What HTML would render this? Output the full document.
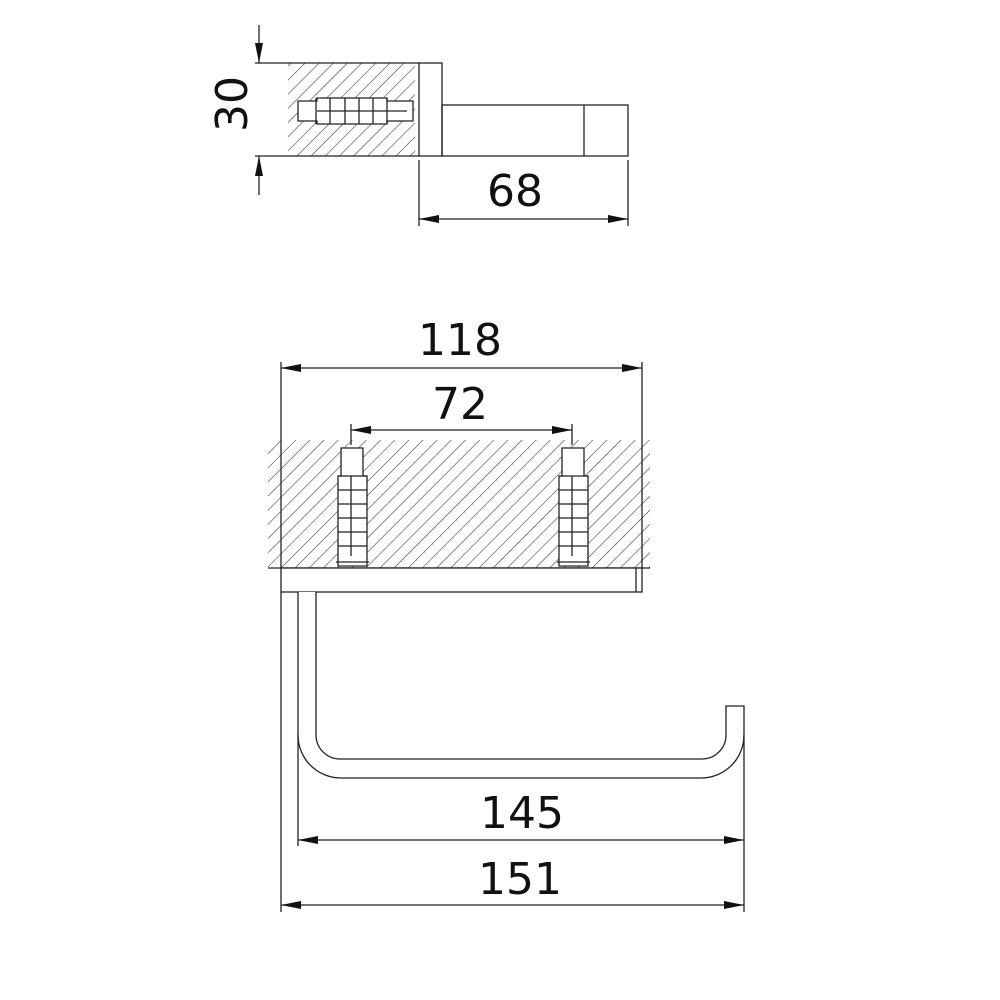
<!DOCTYPE html>
<html><head><style>body{margin:0;background:#fff}svg{display:block}text{font-family:"DejaVu Sans","Liberation Sans",sans-serif;font-size:44px;fill:#111;text-anchor:middle}</style></head><body>
<svg width="1000" height="1000" viewBox="0 0 1000 1000" xmlns="http://www.w3.org/2000/svg">
<defs>
<pattern id="h" patternUnits="userSpaceOnUse" width="10" height="10" patternTransform="rotate(45)">
<line x1="0" y1="0" x2="0" y2="10" stroke="#333" stroke-width="1.1"/>
</pattern>
<marker id="a" viewBox="0 0 20 8" refX="20" refY="4" markerWidth="20" markerHeight="8" markerUnits="userSpaceOnUse" orient="auto-start-reverse"><path d="M0,0L20,4L0,8z" fill="#111"/></marker>
</defs>
<g stroke="#222" stroke-width="1.3" fill="none">
<rect x="288" y="63" width="127" height="93" fill="url(#h)" stroke="none"/>
<line x1="255" y1="63" x2="420" y2="63"/>
<line x1="255" y1="156" x2="420" y2="156"/>
<rect x="419" y="63" width="23" height="93" fill="#fff"/>
<rect x="442" y="105" width="186" height="51"/>
<line x1="584" y1="105" x2="584" y2="156"/>
<path d="M298,101h19v-3h70v3h26v20h-26v3h-70v-3h-19z" fill="#fff"/>
<path d="M316,98v26M330,98v26M345,98v26M359,98v26M373,98v26M387,98v26M317,111h90" />
<line x1="259" y1="25" x2="259" y2="63" marker-end="url(#a)"/>
<line x1="259" y1="195" x2="259" y2="156" marker-end="url(#a)"/>
<line x1="419" y1="160" x2="419" y2="226"/>
<line x1="628" y1="160" x2="628" y2="226"/>
<line x1="419" y1="219" x2="628" y2="219" marker-start="url(#a)" marker-end="url(#a)"/>
<rect x="268" y="440" width="382" height="128" fill="url(#h)" stroke="none"/>
<line x1="268" y1="568" x2="650" y2="568"/>
<rect x="281" y="568" width="361" height="24" fill="#fff"/>
<line x1="636" y1="568" x2="636" y2="592"/>
<line x1="281" y1="362" x2="281" y2="568"/>
<line x1="642" y1="362" x2="642" y2="568"/>
<line x1="281" y1="368" x2="642" y2="368" marker-start="url(#a)" marker-end="url(#a)"/>
<line x1="351" y1="430" x2="572" y2="430" marker-start="url(#a)" marker-end="url(#a)"/>
<line x1="351" y1="424" x2="351" y2="445"/>
<line x1="572" y1="424" x2="572" y2="445"/>
<path d="M341,448h22v28h4v90h-29v-90h3z" fill="#fff"/>
<path d="M338,476h29M338,490h29M338,504h29M338,518h29M338,532h29M338,546h29M336,562h33M351,476v80"/>
<path d="M562,448h22v28h4v90h-29v-90h3z" fill="#fff"/>
<path d="M559,476h29M559,490h29M559,504h29M559,518h29M559,532h29M559,546h29M557,562h33M572,476v80"/>
<path d="M298,592V735A43,43 0 0 0 341,778H701A43,43 0 0 0 744,735V706H726V735A24,24 0 0 1 702,759H340A24,24 0 0 1 316,735V592" fill="#fff"/>
<line x1="298" y1="735" x2="298" y2="846"/>
<line x1="744" y1="735" x2="744" y2="912"/>
<line x1="281" y1="592" x2="281" y2="912"/>
<line x1="298" y1="840" x2="744" y2="840" marker-start="url(#a)" marker-end="url(#a)"/>
<line x1="281" y1="905" x2="744" y2="905" marker-start="url(#a)" marker-end="url(#a)"/>
</g>
<text x="0" y="0" transform="translate(247,104) rotate(-90)">30</text>
<text x="515" y="206">68</text>
<text x="460" y="355">118</text>
<text x="460" y="419">72</text>
<text x="522" y="828">145</text>
<text x="520" y="894">151</text>
</svg>
</body></html>
